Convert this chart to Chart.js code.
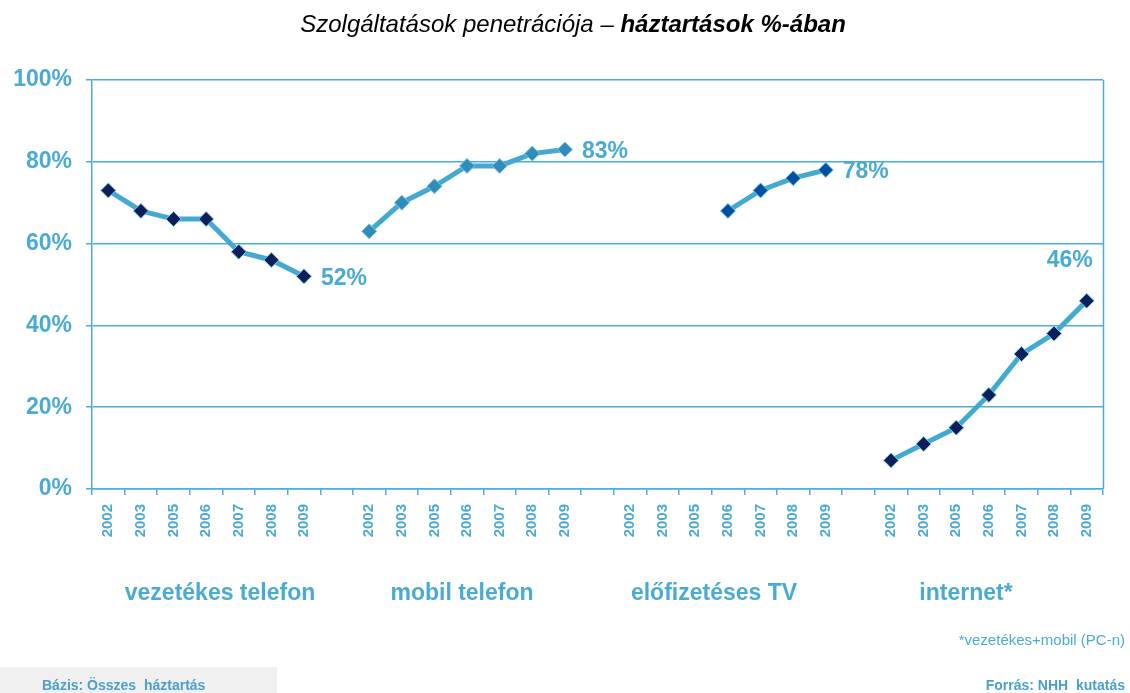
<!DOCTYPE html>
<html lang="hu">
<head>
    <meta charset="UTF-8">
    <title>Szolgáltatások penetrációja</title>
    <script src="https://cdn.jsdelivr.net/npm/chart.js"></script>
    <style>
        body {
            margin: 0;
            padding: 0;
            background: #ffffff;
        }
        #wrap {
            width: 1130px;
            height: 693px;
        }
    </style>
</head>
<body>
    <div id="wrap">
        <canvas id="penChart" width="1130" height="693"></canvas>
    </div>

    <script>
        // Adatok (háztartások %-ában)
        const years = ['2002', '2003', '2005', '2006', '2007', '2008', '2009'];
        const groupNames = ['vezetékes telefon', 'mobil telefon', 'előfizetéses TV', 'internet*'];
        const vezetekes = [73, 68, 66, 66, 58, 56, 52];
        const mobil = [63, 70, 74, 79, 79, 82, 83];
        const tv = [null, null, null, 68, 73, 76, 78];
        const internet = [7, 11, 15, 23, 33, 38, 46];
        const endLabels = ['52%', '83%', '78%', '46%'];
        const yTicks = [0, 20, 40, 60, 80, 100];

        const series = [vezetekes, mobil, tv, internet];
        const markerColors = ['#0c1f5b', '#2f8cbb', '#0050a2', '#0c1f5b'];
        const labelPlace = ['right', 'right', 'right', 'above'];
        const groupLabelX = [220, 462, 714, 966];

        const lineColor = '#44a9d1';
        const textColor = '#4aabd2';
        const gridColor = '#4aaed8';
        const fontFamily = '"Liberation Sans", Arial, sans-serif';

        // kategóriák: 4 csoport, köztük egy-egy üres hely
        const labels = [];
        series.forEach((s, g) => {
            years.forEach(y => labels.push(y));
            if (g < series.length - 1) labels.push('');
        });

        const datasets = series.map((vals, g) => {
            const arr = new Array(labels.length).fill(null);
            const start = g * (years.length + 1);
            vals.forEach((v, i) => { arr[start + i] = v; });
            return {
                label: groupNames[g],
                data: arr,
                borderColor: lineColor,
                borderWidth: 5,
                tension: 0,
                spanGaps: false,
                pointStyle: 'rectRot',
                pointRadius: 7.5,
                pointHoverRadius: 7.5,
                pointBackgroundColor: markerColors[g],
                pointBorderColor: '#7cc6e4',
                pointBorderWidth: 1
            };
        });

        const textPlugin = {
            id: 'texts',
            afterDraw(chart) {
                const ctx = chart.ctx;
                const area = chart.chartArea;
                ctx.save();

                // jobb oldali keret
                ctx.strokeStyle = gridColor;
                ctx.lineWidth = 1.5;
                ctx.beginPath();
                ctx.moveTo(Math.round(area.right) + 0.5, area.top);
                ctx.lineTo(Math.round(area.right) + 0.5, area.bottom);
                ctx.stroke();

                // utolsó értékek címkéi
                ctx.fillStyle = textColor;
                ctx.font = 'bold 23px ' + fontFamily;
                ctx.textBaseline = 'middle';
                chart.data.datasets.forEach((ds, i) => {
                    let last = -1;
                    ds.data.forEach((v, j) => { if (v !== null) last = j; });
                    const pt = chart.getDatasetMeta(i).data[last];
                    if (labelPlace[i] === 'right') {
                        ctx.textAlign = 'left';
                        ctx.fillText(endLabels[i], pt.x + 17, pt.y + 2);
                    } else {
                        ctx.textAlign = 'center';
                        ctx.fillText(endLabels[i], pt.x - 17, pt.y - 40);
                    }
                });

                // csoportnevek
                ctx.font = 'bold 23px ' + fontFamily;
                ctx.textAlign = 'center';
                groupNames.forEach((n, i) => ctx.fillText(n, groupLabelX[i], 594));

                // cím
                const p1 = 'Szolgáltatások penetrációja – ';
                const p2 = 'háztartások %-ában';
                ctx.fillStyle = '#000000';
                ctx.textAlign = 'left';
                ctx.font = 'italic 24px ' + fontFamily;
                const w1 = ctx.measureText(p1).width;
                ctx.font = 'italic bold 24px ' + fontFamily;
                const w2 = ctx.measureText(p2).width;
                const x0 = 573 - (w1 + w2) / 2;
                ctx.font = 'italic 24px ' + fontFamily;
                ctx.fillText(p1, x0, 25);
                ctx.font = 'italic bold 24px ' + fontFamily;
                ctx.fillText(p2, x0 + w1, 25);

                // lábjegyzet
                ctx.fillStyle = textColor;
                ctx.textAlign = 'right';
                ctx.font = '15px ' + fontFamily;
                ctx.fillText('*vezetékes+mobil (PC-n)', 1125, 641);

                // alsó sáv
                ctx.fillStyle = '#f0f0f0';
                ctx.fillRect(0, 667, 277, 26);
                ctx.fillStyle = '#4a9fcc';
                ctx.font = 'bold 14px ' + fontFamily;
                ctx.textAlign = 'left';
                ctx.fillText('Bázis: Összes  háztartás', 42, 686);
                ctx.textAlign = 'right';
                ctx.fillText('Forrás: NHH  kutatás', 1125, 686);

                ctx.restore();
            }
        };

        const ctx = document.getElementById('penChart').getContext('2d');
        new Chart(ctx, {
            type: 'line',
            data: { labels: labels, datasets: datasets },
            options: {
                responsive: false,
                animation: false,
                layout: { padding: { top: 80, right: 27, bottom: 144, left: 0 } },
                plugins: {
                    legend: { display: false },
                    title: { display: false },
                    tooltip: { enabled: false }
                },
                scales: {
                    x: {
                        offset: true,
                        afterFit: s => { s.height = 60; },
                        grid: {
                            offset: true,
                            drawOnChartArea: false,
                            drawTicks: true,
                            tickLength: 6,
                            lineWidth: 1.5,
                            color: gridColor
                        },
                        border: { color: gridColor, width: 1.5 },
                        ticks: {
                            autoSkip: false,
                            minRotation: 90,
                            maxRotation: 90,
                            padding: 9,
                            color: textColor,
                            font: { family: fontFamily, size: 15, weight: 'bold' }
                        }
                    },
                    y: {
                        min: 0,
                        max: 100,
                        afterFit: s => { s.width = 92; },
                        afterBuildTicks: s => { s.ticks = yTicks.map(v => ({ value: v })); },
                        grid: {
                            color: gridColor,
                            tickLength: 6,
                            lineWidth: 1.5
                        },
                        border: { color: gridColor, width: 1.5 },
                        ticks: {
                            padding: 14,
                            color: textColor,
                            font: { family: fontFamily, size: 23, weight: 'bold' },
                            callback: v => v + '%'
                        }
                    }
                }
            },
            plugins: [textPlugin]
        });
    </script>
</body>
</html>
